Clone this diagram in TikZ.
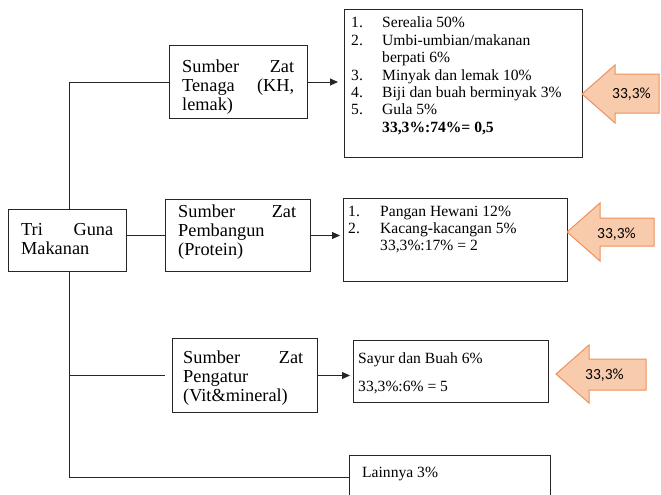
\documentclass[tikz,border=0pt]{standalone}
\usepackage{fontspec}
\setmainfont{Liberation Serif}
\newfontfamily\calibfont{Carlito}
\usetikzlibrary{arrows.meta}
\definecolor{boxc}{HTML}{262626}
\definecolor{blkfill}{HTML}{F8CBAD}
\definecolor{blkdraw}{HTML}{F0905A}
\begin{document}
\begin{tikzpicture}[x=1pt,y=-1pt,
  box/.style={draw=boxc, line width=1pt, inner sep=0pt, anchor=north west},
  ln/.style={draw=boxc, line width=1pt},
  arr/.style={ln, -{Triangle[length=8pt,width=7pt]}},
  bigt/.style={inner sep=0pt, anchor=base west, font=\fontsize{18.3}{19}\selectfont},
  smt/.style={inner sep=0pt, anchor=base west, font=\fontsize{15.6}{17.4}\selectfont},
  blk/.style={fill=blkfill, draw=blkdraw, line width=1pt, line join=miter},
  blkt/.style={inner sep=0pt, anchor=base west, font=\calibfont\fontsize{15.5}{17}\selectfont},
]
\useasboundingbox (0,0) rectangle (661,495);
\clip (0,0) rectangle (661,495);

% boxes
\node[box, minimum width=118pt, minimum height=62pt] (tri) at (8,209) {};
\node[box, minimum width=138pt, minimum height=73pt] (tenaga) at (169,45) {};
\node[box, minimum width=145pt, minimum height=72pt] (pembangun) at (165,199) {};
\node[box, minimum width=145pt, minimum height=74pt] (pengatur) at (172,338) {};
\node[box, minimum width=238pt, minimum height=148pt] (b1) at (344,9) {};
\node[box, minimum width=224pt, minimum height=83pt] (b2) at (343,198) {};
\node[box, minimum width=195pt, minimum height=62pt] (b3) at (353,340) {};
\node[box, minimum width=201pt, minimum height=60pt] (lainnya) at (349,455) {};

% left texts
\node[bigt] (tritxt) at (21,235) {\parbox[t]{92pt}{Tri\hfill Guna\\Makanan}};
\node[bigt] (tenagatxt) at (182,72) {\parbox[t]{112pt}{Sumber\hfill Zat\\Tenaga\hfill (KH,\\lemak)}};
\node[bigt] (pembtxt) at (178,217) {\parbox[t]{118pt}{Sumber\hfill Zat\\Pembangun\\(Protein)}};
\node[bigt] (pengtxt) at (183,363) {\parbox[t]{120pt}{Sumber\hfill Zat\\Pengatur\\(Vit\&mineral)}};

% right texts
\node[smt] (b1txt) at (351,28) {\parbox[t]{228pt}{%
\makebox[31pt][l]{1.}Serealia 50\%\\
\makebox[31pt][l]{2.}Umbi-umbian/makanan\\
\hspace*{31pt}berpati 6\%\\
\makebox[31pt][l]{3.}Minyak dan lemak 10\%\\
\makebox[31pt][l]{4.}Biji dan buah berminyak 3\%\\
\makebox[31pt][l]{5.}Gula 5\%\\
\hspace*{31pt}\textbf{33,3\%:74\%= 0,5}}};
\node[smt] (b2txt) at (348,216) {\parbox[t]{215pt}{%
\makebox[32pt][l]{1.}Pangan Hewani 12\%\\
\makebox[32pt][l]{2.}Kacang-kacangan 5\%\\
\hspace*{32pt}33,3\%:17\% = 2}};
\node[smt] (b3a) at (358,363) {Sayur dan Buah 6\%};
\node[smt] (b3b) at (358,391) {33,3\%:6\% = 5};
\node[smt] (laintxt) at (362,477) {Lainnya 3\%};

% block arrows
\draw[blk] (582,94) -- (615,65) -- (615,74) -- (659,74) -- (659,113) -- (615,113) -- (615,123) -- cycle;
\node[blkt] (k1) at (612,99) {33,3\%};
\draw[blk] (567,232) -- (600,203) -- (600,218) -- (654,218) -- (654,246) -- (600,246) -- (600,261) -- cycle;
\node[blkt] (k2) at (597,238) {33,3\%};
\draw[blk] (556,374) -- (589,345) -- (589,359) -- (646,359) -- (646,390) -- (589,390) -- (589,403) -- cycle;
\node[blkt] (k3) at (585,379) {33,3\%};

% connectors
\coordinate (trunk) at (69,0);
\draw[ln] (tenaga.west) -| (trunk |- tri.north);
\draw[ln] (trunk |- tri.south) |- ([yshift=-22pt]lainnya.north west);
\draw[ln] (trunk |- pengatur.west) -- ([xshift=-7pt]pengatur.west);
\draw[ln] (pembangun.west -| tri.east) -- (pembangun.west);
\draw[arr, shorten >=6pt] (tenaga.east) -- (tenaga.east -| b1.west);
\draw[arr, shorten >=3pt] (pembangun.east) -- (pembangun.east -| b2.west);
\draw[arr, shorten >=3pt] (pengatur.east) -- (pengatur.east -| b3.west);
\end{tikzpicture}
\end{document}
